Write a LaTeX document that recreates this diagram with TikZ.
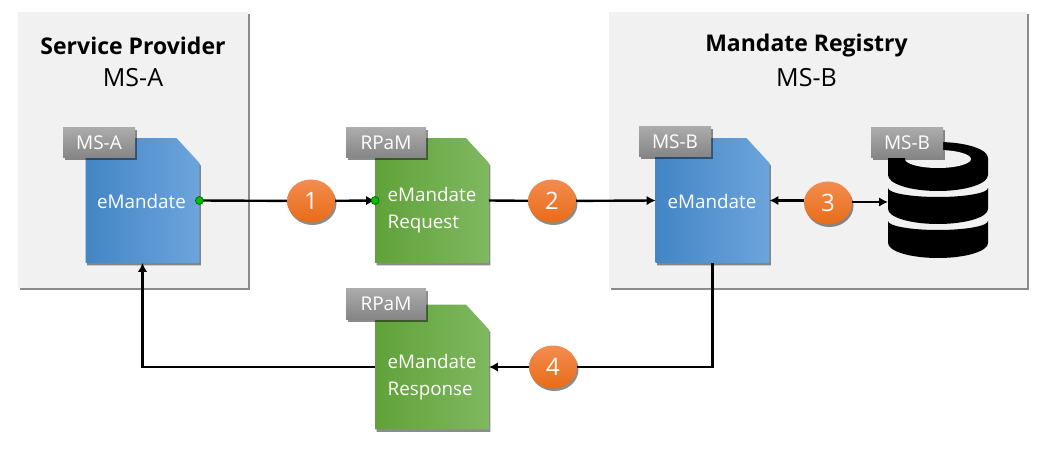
\documentclass[tikz,border=0pt]{standalone}
\usepackage{fontspec}
\setmainfont{Open Sans}
\usetikzlibrary{positioning, arrows.meta, shadows, shapes.geometric}
\definecolor{panelgray}{HTML}{F1F1F1}
\definecolor{bluea}{HTML}{4385C5}
\definecolor{bluem}{HTML}{4F95D8}
\definecolor{blueb}{HTML}{6DA4DC}
\definecolor{greena}{HTML}{60A239}
\definecolor{greenm}{HTML}{6DB044}
\definecolor{greenb}{HTML}{7FB860}
\definecolor{taga}{HTML}{ABABAB}
\definecolor{tagb}{HTML}{858585}
\definecolor{stepa}{HTML}{F48C50}
\definecolor{stepb}{HTML}{E76C17}
\tikzset{
  softshadow/.style={drop shadow={shadow xshift=1.5pt, shadow yshift=-2.5pt, fill=black, opacity=0.45}},
  panelbox/.style={rectangle, fill=panelgray, softshadow, minimum width=#1, minimum height=276pt, inner sep=0pt},
  docbox/.style={rectangle, minimum width=113.5pt, minimum height=124.5pt, inner sep=0pt},
  bluedoc/.style={left color=bluea, middle color=bluem, right color=blueb, softshadow},
  greendoc/.style={left color=greena, middle color=greenm, right color=greenb, softshadow},
  doctext/.style={text=white, font=\fontsize{18.8}{26.5}\selectfont, align=left, inner sep=0pt},
  tagbox/.style={rectangle, top color=taga, bottom color=tagb, softshadow, text=white,
    font=\fontsize{19}{20}\selectfont, minimum height=30pt, inner sep=0pt},
  stepdot/.style={ellipse, top color=stepa, bottom color=stepb, softshadow, text=white,
    font=\fontsize{24}{26}\selectfont, minimum width=48pt, minimum height=43pt, inner sep=0pt},
  greendot/.style={circle, fill=green!75!black, draw=green!35!black, line width=0.6pt, minimum size=8pt, inner sep=0pt},
  conn/.style={line width=2.4pt, -{Latex[length=9pt,width=9.5pt]}},
  plain/.style={line width=2.4pt},
  title/.style={font=\fontsize{23}{28}\selectfont\bfseries, inner sep=0pt},
  subtitle/.style={font=\fontsize{25}{28}\selectfont, inner sep=0pt}
}
\newcommand{\docfold}[2]{%
  \shade[#2] (#1.south west) -- (#1.north west) -- ([xshift=-23pt]#1.north east)
    -- ([yshift=-25pt]#1.north east) -- (#1.south east) -- cycle;}
\begin{document}
\begin{tikzpicture}[x=1pt, y=-1pt]
  \useasboundingbox (0,0) rectangle (1050,449);
  % panels
  \node[panelbox=230pt] (provider) at (133,150) {};
  \node[panelbox=418pt] (registry) at (818,150) {};
  \node[title] (providertitle) at (133,45.5) {Service Provider};
  \node[subtitle] (providersub) at (133,78) {MS-A};
  \node[title] (registrytitle) at (806.5,45.5) {Mandate Registry};
  \node[subtitle] (registrysub) at (806.5,78) {MS-B};
  % documents
  \node[docbox] (msa) at (142.5,200.5) {};
  \docfold{msa}{bluedoc}
  \node[doctext] (msatext) at (141.5,201) {eMandate};
  \node[docbox] (req) at (432,200.5) {};
  \docfold{req}{greendoc}
  \node[doctext] (reqtext) at (432,210) {eMandate\\Request};
  \node[docbox] (resp) at (432,367) {};
  \docfold{resp}{greendoc}
  \node[doctext] (resptext) at (432,377) {eMandate\\Response};
  \node[docbox] (msb) at (712.5,200.5) {};
  \docfold{msb}{bluedoc}
  \node[doctext] (msbtext) at (712,201) {eMandate};
  % database
  \fill[black] (888,158) arc[start angle=180, end angle=360, x radius=50, y radius=16]
    -- (988,175) arc[start angle=0, end angle=180, x radius=50, y radius=16] -- cycle;
  \fill[panelgray] (938,159) ellipse[x radius=33, y radius=9];
  \fill[black] (888,188) arc[start angle=180, end angle=0, x radius=50, y radius=9]
    -- (988,209) arc[start angle=0, end angle=180, x radius=50, y radius=15] -- cycle;
  \fill[black] (888,221) arc[start angle=180, end angle=0, x radius=50, y radius=9]
    -- (988,243) arc[start angle=0, end angle=180, x radius=50, y radius=15] -- cycle;
  \coordinate (dbport) at (888,202);
  % tags
  \node[tagbox, minimum width=72pt] (msatag) at (99,143) {MS-A};
  \node[tagbox, minimum width=80pt] (reqtag) at (386,143) {RPaM};
  \node[tagbox, minimum width=80pt] (resptag) at (386,304) {RPaM};
  \node[tagbox, minimum width=72pt] (msbtag) at (675,142) {MS-B};
  \node[tagbox, minimum width=72pt] (dbtag) at (907,143) {MS-B};
  % steps
  \node[stepdot] (one) at (311,201) {1};
  \node[stepdot] (two) at (552,201) {2};
  \node[stepdot] (three) at (828,203) {3};
  \node[stepdot] (four) at (553,367) {4};
  % connectors
  \draw[plain] (msa.east) -- (one);
  \draw[conn] (one) -- (req.west);
  \draw[plain] (req.east) -- (two);
  \draw[conn] (two) -- (msb.west);
  \draw[conn] (three.west |- msb.east) -- (msb.east);
  \draw[conn] (three.east |- dbport) -- (dbport);
  \draw[plain] (msb.south) |- (four);
  \draw[conn] (four) -- (resp.east);
  \draw[conn] (resp.west) -| (msa.south);
  % ports
  \node[greendot] (outdot) at (msa.east) {};
  \node[greendot] (indot) at (req.west) {};
\end{tikzpicture}
\end{document}
